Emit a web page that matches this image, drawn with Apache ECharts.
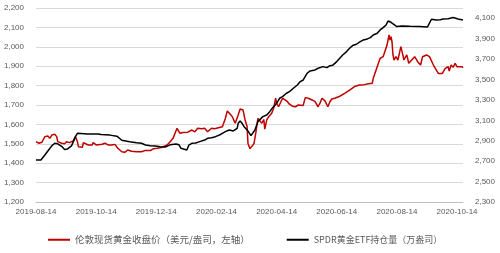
<!DOCTYPE html>
<html>
<head>
<meta charset="utf-8">
<script src="https://cdn.jsdelivr.net/npm/echarts@6/dist/echarts.min.js"></script>
<style>html,body{margin:0;padding:0;background:#fff}#c{width:500px;height:253px}</style>
</head>
<body>
<div id="c"></div>
<script>
const tickLabels = ['2019-08-14','2019-10-14','2019-12-14','2020-02-14','2020-04-14','2020-06-14','2020-08-14','2020-10-14'];
const seriesNames = ['伦敦现货黄金收盘价（美元/盎司，左轴）','SPDR黄金ETF持仓量（万盎司）'];
const lastDate = '2020-10-20';

const goldDates = ['2019-08-14','2019-08-17','2019-08-20','2019-08-23','2019-08-26','2019-08-28','2019-08-30','2019-09-02','2019-09-04','2019-09-05','2019-09-09','2019-09-12','2019-09-14','2019-09-17','2019-09-21','2019-09-23','2019-09-25','2019-09-26','2019-09-30','2019-10-01','2019-10-03','2019-10-06','2019-10-10','2019-10-11','2019-10-14','2019-10-16','2019-10-20','2019-10-23','2019-10-25','2019-10-26','2019-10-30','2019-11-02','2019-11-05','2019-11-09','2019-11-12','2019-11-15','2019-11-19','2019-11-24','2019-11-29','2019-12-03','2019-12-08','2019-12-11','2019-12-15','2019-12-18','2019-12-21','2019-12-25','2019-12-28','2019-12-31','2020-01-02','2020-01-04','2020-01-05','2020-01-07','2020-01-10','2020-01-12','2020-01-15','2020-01-19','2020-01-22','2020-01-25','2020-01-29','2020-02-01','2020-02-04','2020-02-08','2020-02-11','2020-02-15','2020-02-19','2020-02-22','2020-02-24','2020-02-27','2020-02-29','2020-03-03','2020-03-06','2020-03-08','2020-03-11','2020-03-13','2020-03-15','2020-03-16','2020-03-18','2020-03-20','2020-03-22','2020-03-24','2020-03-26','2020-03-28','2020-03-30','2020-04-01','2020-04-02','2020-04-04','2020-04-06','2020-04-09','2020-04-11','2020-04-13','2020-04-14','2020-04-16','2020-04-18','2020-04-20','2020-04-22','2020-04-25','2020-04-27','2020-04-30','2020-05-01','2020-05-03','2020-05-06','2020-05-08','2020-05-11','2020-05-13','2020-05-16','2020-05-18','2020-05-20','2020-05-23','2020-05-26','2020-05-28','2020-05-30','2020-06-02','2020-06-05','2020-06-07','2020-06-09','2020-06-12','2020-06-17','2020-06-22','2020-06-27','2020-06-29','2020-07-02','2020-07-07','2020-07-12','2020-07-16','2020-07-20','2020-07-21','2020-07-25','2020-07-28','2020-07-31','2020-08-02','2020-08-04','2020-08-06','2020-08-07','2020-08-08','2020-08-09','2020-08-10','2020-08-11','2020-08-13','2020-08-15','2020-08-18','2020-08-20','2020-08-21','2020-08-24','2020-08-26','2020-08-29','2020-09-01','2020-09-04','2020-09-07','2020-09-09','2020-09-13','2020-09-16','2020-09-18','2020-09-20','2020-09-23','2020-09-25','2020-09-29','2020-10-02','2020-10-05','2020-10-06','2020-10-08','2020-10-10','2020-10-12','2020-10-14','2020-10-15','2020-10-19','2020-10-20'];
const goldPrice = [1511,1503,1508,1537,1540,1528,1545,1549,1537,1511,1503,1500,1511,1506,1516,1537,1511,1485,1482,1506,1500,1494,1494,1506,1494,1494,1498,1503,1511,1494,1494,1497,1477,1459,1456,1468,1462,1459,1459,1466,1465,1474,1477,1480,1485,1494,1511,1528,1554,1580,1571,1554,1558,1562,1560,1571,1562,1580,1578,1580,1562,1580,1578,1583,1588,1631,1669,1652,1640,1606,1648,1679,1674,1623,1590,1500,1475,1472,1500,1560,1631,1623,1606,1625,1576,1623,1640,1657,1683,1735,1709,1691,1700,1735,1743,1717,1704,1694,1702,1691,1700,1696,1698,1738,1735,1743,1726,1717,1691,1710,1735,1721,1691,1717,1731,1735,1745,1760,1777,1786,1795,1803,1805,1810,1812,1838,1897,1941,1949,1958,2009,2061,2035,2052,2026,1958,1932,1949,1932,2001,1958,1932,1958,1915,1932,1949,1923,1906,1949,1958,1949,1940,1906,1880,1863,1863,1889,1897,1875,1906,1894,1915,1897,1889,1897,1892];

const spdrDates = ['2019-08-14','2019-08-19','2019-08-23','2019-08-26','2019-08-30','2019-09-02','2019-09-05','2019-09-09','2019-09-12','2019-09-15','2019-09-19','2019-09-23','2019-09-25','2019-10-05','2019-10-16','2019-10-17','2019-10-19','2019-10-28','2019-11-04','2019-11-09','2019-11-17','2019-11-24','2019-11-29','2019-12-03','2019-12-08','2019-12-13','2019-12-18','2019-12-23','2019-12-28','2020-01-03','2020-01-06','2020-01-08','2020-01-10','2020-01-14','2020-01-16','2020-01-19','2020-01-23','2020-01-27','2020-02-01','2020-02-04','2020-02-08','2020-02-12','2020-02-16','2020-02-19','2020-02-22','2020-02-26','2020-03-01','2020-03-05','2020-03-06','2020-03-08','2020-03-10','2020-03-12','2020-03-14','2020-03-16','2020-03-19','2020-03-20','2020-03-23','2020-03-26','2020-03-28','2020-03-31','2020-04-04','2020-04-07','2020-04-10','2020-04-14','2020-04-17','2020-04-20','2020-04-24','2020-04-27','2020-05-01','2020-05-05','2020-05-08','2020-05-11','2020-05-15','2020-05-18','2020-05-23','2020-05-26','2020-05-31','2020-06-04','2020-06-07','2020-06-10','2020-06-14','2020-06-17','2020-06-20','2020-06-24','2020-06-27','2020-06-30','2020-07-04','2020-07-07','2020-07-11','2020-07-15','2020-07-18','2020-07-21','2020-07-25','2020-07-28','2020-07-31','2020-08-03','2020-08-05','2020-08-08','2020-08-10','2020-08-14','2020-08-19','2020-08-27','2020-09-06','2020-09-14','2020-09-16','2020-09-18','2020-09-20','2020-09-23','2020-09-27','2020-09-30','2020-10-05','2020-10-10','2020-10-15','2020-10-20'];
const spdrHoldings = [2711,2711,2760,2800,2850,2875,2870,2845,2815,2820,2850,2940,2973,2966,2966,2975,2962,2955,2945,2905,2891,2881,2875,2858,2852,2849,2842,2838,2860,2868,2860,2826,2810,2810,2858,2875,2878,2891,2907,2924,2930,2940,2956,2973,2989,3005,2996,3022,3071,3094,3071,3038,3022,2995,2950,2935,3005,3087,3103,3136,3152,3185,3224,3267,3316,3332,3365,3381,3414,3446,3479,3495,3561,3584,3593,3610,3626,3616,3635,3640,3675,3708,3740,3773,3806,3832,3845,3865,3887,3897,3910,3936,3953,3985,4008,4034,4073,4060,4041,4018,4024,4021,4018,4015,4002,4090,4106,4083,4085,4093,4095,4106,4093,4083];

function dayIndex(s) {
  const p = s.split('-').map(Number);
  const q = tickLabels[0].split('-').map(Number);
  return Math.round((Date.UTC(p[0], p[1]-1, p[2]) - Date.UTC(q[0], q[1]-1, q[2])) / 86400000);
}
const tickStep = dayIndex(tickLabels[1]);
const goldData = goldDates.map((d, i) => [dayIndex(d), goldPrice[i]]);
const spdrData = spdrDates.map((d, i) => [dayIndex(d), spdrHoldings[i]]);

const labelColor = '#595959';
const labelFont = '"Liberation Sans", Arial, sans-serif';
const cjkFont = '"Noto Sans CJK SC", sans-serif';
const chart = echarts.init(document.getElementById('c'), null, {renderer: 'canvas'});
chart.setOption({
  animation: false,
  grid: {left: 36, right: 37, top: 8, bottom: 51, containLabel: false},
  legend: {
    left: 48, top: 235, padding: 0, itemGap: 37, itemWidth: 22, itemHeight: 2,
    icon: 'rect',
    textStyle: {fontSize: 9, color: labelColor, fontFamily: cjkFont},
    data: [
      {name: seriesNames[0], textStyle: {fontSize: 9.5, color: labelColor, fontFamily: cjkFont}},
      {name: seriesNames[1], textStyle: {fontSize: 9, color: labelColor, fontFamily: cjkFont}}
    ]
  },
  xAxis: {
    type: 'value', min: 0, max: dayIndex(lastDate), interval: tickStep,
    axisLine: {show: true, lineStyle: {color: '#bfbfbf', width: 1}},
    axisTick: {show: false},
    splitLine: {show: false},
    axisLabel: {
      color: labelColor, fontSize: 8, fontFamily: labelFont, margin: 6,
      showMaxLabel: false,
      formatter: v => (v % tickStep === 0 ? (tickLabels[v / tickStep] || '') : '')
    }
  },
  yAxis: [
    {
      type: 'value', min: 1200, max: 2200, interval: 100,
      axisLine: {show: false}, axisTick: {show: false},
      splitLine: {lineStyle: {color: '#d9d9d9', width: 1}},
      axisLabel: {color: labelColor, fontSize: 8, fontFamily: labelFont, margin: 12,
        formatter: v => v.toLocaleString('en-US')}
    },
    {
      type: 'value', min: 2300, max: 4200, interval: 200, position: 'right',
      axisLine: {show: false}, axisTick: {show: false},
      splitLine: {show: false},
      axisLabel: {color: labelColor, fontSize: 8, fontFamily: labelFont, margin: 12,
        showMaxLabel: false,
        formatter: v => v.toLocaleString('en-US')}
    }
  ],
  series: [
    {
      name: seriesNames[0], type: 'line', yAxisIndex: 0, data: goldData,
      symbol: 'none', smooth: false,
      lineStyle: {color: '#C00000', width: 1.5}, itemStyle: {color: '#C00000'}
    },
    {
      name: seriesNames[1], type: 'line', yAxisIndex: 1, data: spdrData,
      symbol: 'none', smooth: false,
      lineStyle: {color: '#000000', width: 1.5}, itemStyle: {color: '#000000'}
    }
  ]
});
</script>
</body>
</html>
